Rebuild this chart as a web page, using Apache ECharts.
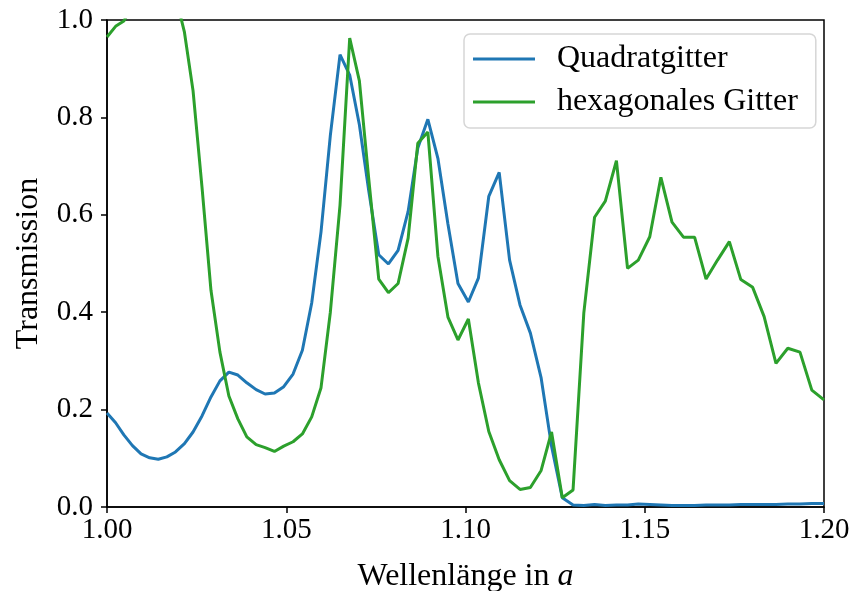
<!DOCTYPE html>
<html>
<head>
<meta charset="utf-8">
<script src="https://cdn.jsdelivr.net/npm/echarts@6/dist/echarts.min.js"></script>
<style>
  html, body { margin: 0; padding: 0; background: #fff; }
  #chart { width: 851px; height: 591px; }
</style>
</head>
<body>
<div id="chart"></div>
<script>
// Wellenlänge (in Einheiten der Gitterkonstante a)
const wavelength = [
  1.0000, 1.0024, 1.0047, 1.0071, 1.0095, 1.0119, 1.0143, 1.0167, 1.0191, 1.0216,
  1.0240, 1.0265, 1.0290, 1.0315, 1.0340, 1.0365, 1.0390, 1.0416, 1.0441, 1.0467,
  1.0493, 1.0519, 1.0545, 1.0571, 1.0597, 1.0623, 1.0650, 1.0677, 1.0704, 1.0730,
  1.0758, 1.0785, 1.0812, 1.0840, 1.0867, 1.0895, 1.0923, 1.0951, 1.0979, 1.1008,
  1.1036, 1.1065, 1.1094, 1.1123, 1.1152, 1.1181, 1.1211, 1.1240, 1.1270, 1.1300,
  1.1330, 1.1360, 1.1390, 1.1421, 1.1452, 1.1482, 1.1514, 1.1545, 1.1576, 1.1608,
  1.1639, 1.1671, 1.1703, 1.1736, 1.1768, 1.1801, 1.1833, 1.1866, 1.1899, 1.1933,
  1.1966, 1.2000
];

// Transmission, Quadratgitter
const squareLattice = [
  0.193, 0.173, 0.148, 0.126, 0.109, 0.101, 0.098, 0.103, 0.113, 0.130,
  0.154, 0.187, 0.226, 0.259, 0.277, 0.271, 0.255, 0.241, 0.232, 0.234,
  0.247, 0.273, 0.322, 0.419, 0.565, 0.763, 0.929, 0.887, 0.785, 0.650,
  0.518, 0.499, 0.527, 0.607, 0.737, 0.796, 0.716, 0.581, 0.459, 0.421,
  0.470, 0.638, 0.687, 0.507, 0.415, 0.357, 0.265, 0.125, 0.019, 0.004,
  0.003, 0.005, 0.003, 0.004, 0.004, 0.006, 0.005, 0.004, 0.003, 0.003,
  0.003, 0.004, 0.004, 0.004, 0.005, 0.005, 0.005, 0.005, 0.006, 0.006,
  0.007, 0.007
];

// Transmission, hexagonales Gitter
const hexLattice = [
  0.965, 0.987, 0.998, 1.030, 1.050, 1.060, 1.070, 1.070, 1.050, 0.975,
  0.855, 0.657, 0.445, 0.318, 0.228, 0.181, 0.144, 0.128, 0.122, 0.114,
  0.125, 0.134, 0.150, 0.185, 0.245, 0.400, 0.620, 0.963, 0.875, 0.675,
  0.468, 0.440, 0.459, 0.552, 0.747, 0.770, 0.515, 0.390, 0.343, 0.386,
  0.255, 0.155, 0.097, 0.054, 0.036, 0.040, 0.075, 0.154, 0.019, 0.035,
  0.398, 0.595, 0.628, 0.711, 0.490, 0.507, 0.555, 0.677, 0.585, 0.554,
  0.554, 0.468, 0.507, 0.545, 0.467, 0.451, 0.391, 0.295, 0.326, 0.318,
  0.240, 0.220
];

const seriesNames = ['Quadratgitter', 'hexagonales Gitter'];
const seriesColors = ['#1f77b4', '#2ca02c'];
const xTicks = { min: 1.0, max: 1.2, step: 0.05 };
const yTicks = { min: 0.0, max: 1.0, step: 0.2 };

const FONT = 'Liberation Serif';
const FS_TICK = 29;   // Zahlen an den Achsen
const FS_TEXT = 32;   // Achsentitel und Legende
const LINE_W = 3;

const chart = echarts.init(document.getElementById('chart'), null, { renderer: 'canvas' });

const axisCommon = {
  axisLine: { show: true, lineStyle: { color: '#000', width: 1.5 } },
  axisTick: { show: true, inside: false, length: 6, lineStyle: { color: '#000', width: 1.5 } },
  splitLine: { show: false },
  axisLabel: { color: '#000', fontFamily: FONT, fontSize: FS_TICK },
  nameTextStyle: { color: '#000', fontFamily: FONT, fontSize: FS_TEXT }
};

chart.setOption({
  animation: false,
  backgroundColor: '#fff',
  grid: {
    left: 107, right: 27, top: 20, bottom: 84,
    containLabel: false,
    outerBoundsMode: 'none',
    show: true, borderColor: '#000', borderWidth: 1.5, backgroundColor: 'transparent'
  },
  legend: {
    orient: 'vertical',
    left: 464, top: 34,
    data: seriesNames.map((n, k) => ({ name: n, icon: 'rect', itemStyle: { color: seriesColors[k] } })),
    itemWidth: 62, itemHeight: LINE_W, itemGap: 11,
    padding: [9, 18, 10, 9],
    backgroundColor: '#fff',
    borderColor: '#d6d6d6', borderWidth: 1.5, borderRadius: 6,
    textStyle: { color: '#000', fontFamily: FONT, fontSize: FS_TEXT, lineHeight: 32, padding: [0, 0, 0, 17] }
  },
  xAxis: Object.assign({}, axisCommon, {
    type: 'value',
    min: xTicks.min, max: xTicks.max, interval: xTicks.step,
    name: '{t|Wellenlänge in }{i|a}',
    nameLocation: 'middle', nameGap: 54,
    nameTextStyle: {
      color: '#000', fontFamily: FONT, fontSize: FS_TEXT,
      rich: {
        t: { fontFamily: FONT, fontSize: FS_TEXT, color: '#000' },
        i: { fontFamily: FONT, fontSize: FS_TEXT, fontStyle: 'italic', color: '#000' }
      }
    },
    axisLabel: Object.assign({}, axisCommon.axisLabel, {
      margin: 9,
      formatter: v => v.toFixed(2)
    })
  }),
  yAxis: Object.assign({}, axisCommon, {
    type: 'value',
    min: yTicks.min, max: yTicks.max, interval: yTicks.step,
    name: 'Transmission',
    nameLocation: 'middle', nameGap: 62, nameRotate: 90,
    axisLabel: Object.assign({}, axisCommon.axisLabel, {
      margin: 14,
      formatter: v => v.toFixed(1)
    })
  }),
  series: [squareLattice, hexLattice].map((vals, k) => ({
    name: seriesNames[k],
    type: 'line',
    data: wavelength.map((x, i) => [x, vals[i]]),
    symbol: 'none',
    showSymbol: false,
    clip: true,
    itemStyle: { color: seriesColors[k] },
    lineStyle: { color: seriesColors[k], width: LINE_W },
    emphasis: { disabled: true },
    z: 2 + k
  }))
});
</script>
</body>
</html>
